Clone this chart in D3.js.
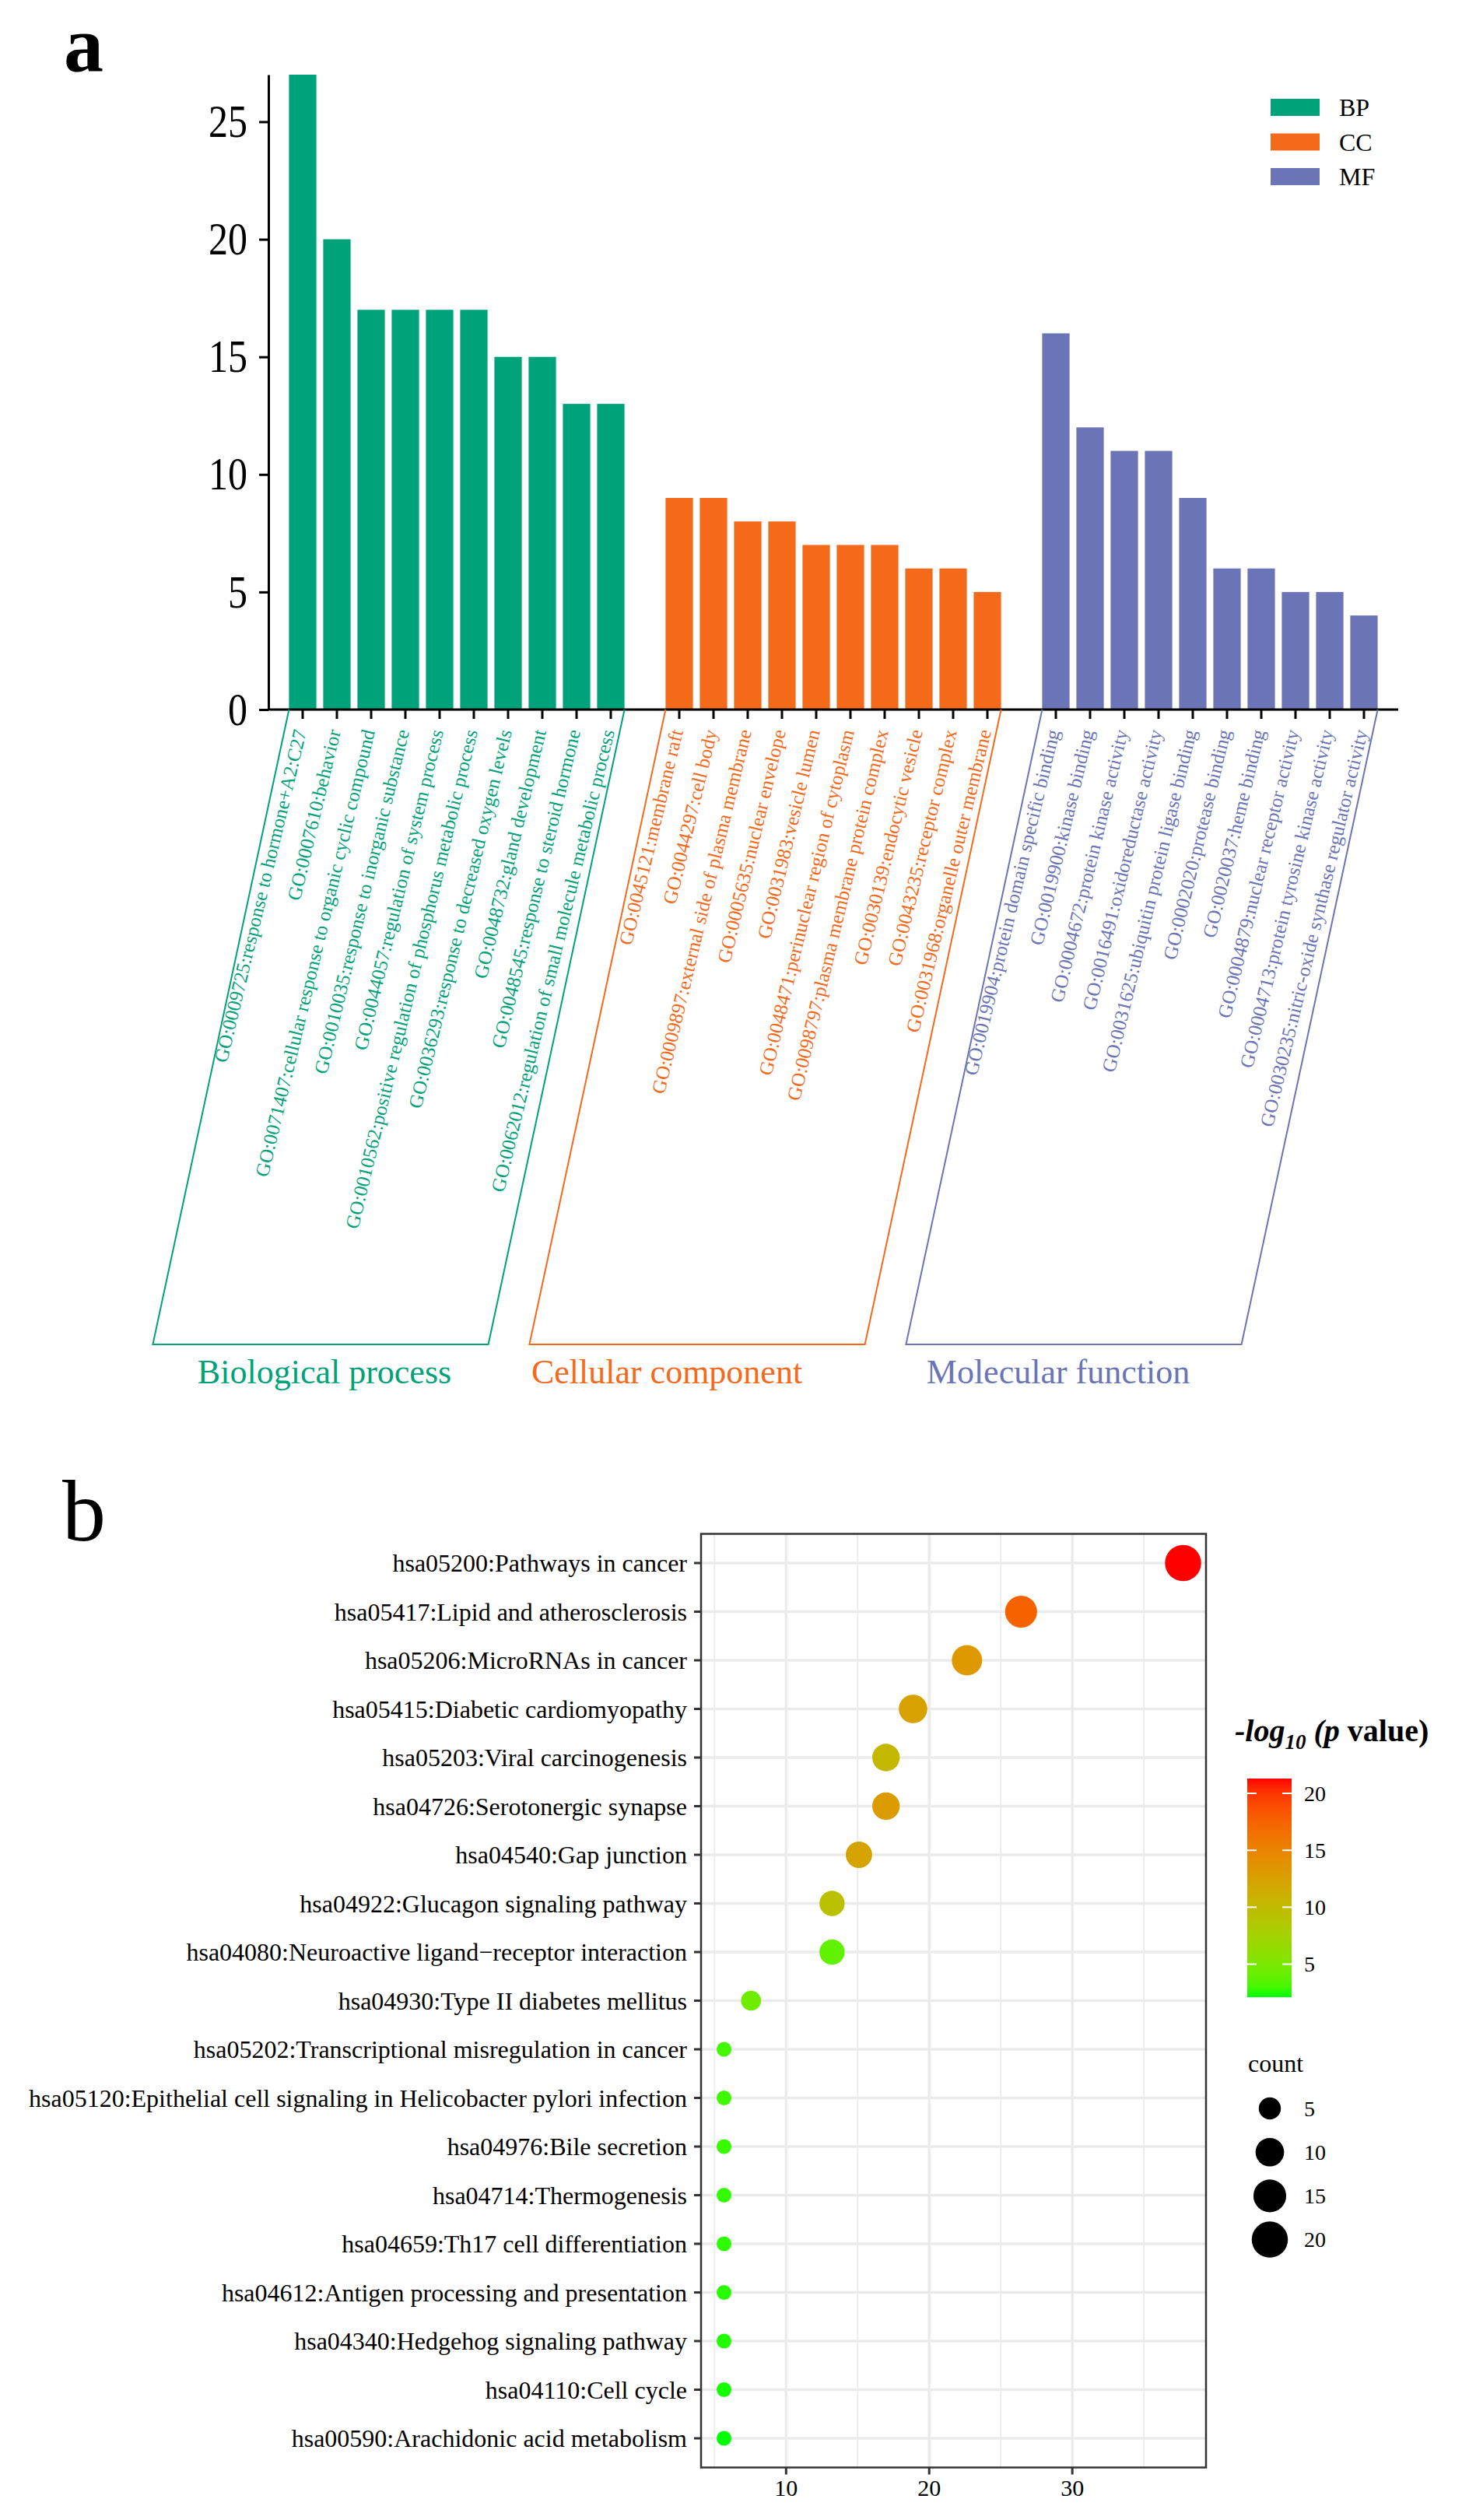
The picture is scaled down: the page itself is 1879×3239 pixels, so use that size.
<!DOCTYPE html>
<html>
<head>
<meta charset="utf-8">
<script src="https://cdn.jsdelivr.net/npm/d3@7"></script>
<style>
  body { margin: 0; background: #fff; }
  text { font-family: "Liberation Serif", "Times New Roman", serif; }
</style>
</head>
<body>
<div id="chart"></div>
<script>
///////////////////////////////////////////////////////////////////
// Data: panel a (GO terms) and panel b (KEGG pathways)
///////////////////////////////////////////////////////////////////

const bpTerms = [
  "GO:0009725:response to hormone+A2:C27",
  "GO:0007610:behavior",
  "GO:0071407:cellular response to organic cyclic compound",
  "GO:0010035:response to inorganic substance",
  "GO:0044057:regulation of system process",
  "GO:0010562:positive regulation of phosphorus metabolic process",
  "GO:0036293:response to decreased oxygen levels",
  "GO:0048732:gland development",
  "GO:0048545:response to steroid hormone",
  "GO:0062012:regulation of small molecule metabolic process"
];
const bpCounts = [27, 20, 17, 17, 17, 17, 15, 15, 13, 13];

const ccTerms = [
  "GO:0045121:membrane raft",
  "GO:0044297:cell body",
  "GO:0009897:external side of plasma membrane",
  "GO:0005635:nuclear envelope",
  "GO:0031983:vesicle lumen",
  "GO:0048471:perinuclear region of cytoplasm",
  "GO:0098797:plasma membrane protein complex",
  "GO:0030139:endocytic vesicle",
  "GO:0043235:receptor complex",
  "GO:0031968:organelle outer membrane"
];
const ccCounts = [9, 9, 8, 8, 7, 7, 7, 6, 6, 5];

const mfTerms = [
  "GO:0019904:protein domain specific binding",
  "GO:0019900:kinase binding",
  "GO:0004672:protein kinase activity",
  "GO:0016491:oxidoreductase activity",
  "GO:0031625:ubiquitin protein ligase binding",
  "GO:0002020:protease binding",
  "GO:0020037:heme binding",
  "GO:0004879:nuclear receptor activity",
  "GO:0004713:protein tyrosine kinase activity",
  "GO:0030235:nitric-oxide synthase regulator activity"
];
const mfCounts = [16, 12, 11, 11, 9, 6, 6, 5, 5, 4];

const groupKeys = ["BP", "CC", "MF"];
const groupTitles = ["Biological process", "Cellular component", "Molecular function"];
const yTicksA = [0, 5, 10, 15, 20, 25];

const keggTerms = [
  "hsa05200:Pathways in cancer",
  "hsa05417:Lipid and atherosclerosis",
  "hsa05206:MicroRNAs in cancer",
  "hsa05415:Diabetic cardiomyopathy",
  "hsa05203:Viral carcinogenesis",
  "hsa04726:Serotonergic synapse",
  "hsa04540:Gap junction",
  "hsa04922:Glucagon signaling pathway",
  "hsa04080:Neuroactive ligand\u2212receptor interaction",
  "hsa04930:Type II diabetes mellitus",
  "hsa05202:Transcriptional misregulation in cancer",
  "hsa05120:Epithelial cell signaling in Helicobacter pylori infection",
  "hsa04976:Bile secretion",
  "hsa04714:Thermogenesis",
  "hsa04659:Th17 cell differentiation",
  "hsa04612:Antigen processing and presentation",
  "hsa04340:Hedgehog signaling pathway",
  "hsa04110:Cell cycle",
  "hsa00590:Arachidonic acid metabolism"
];
const keggPercent = [37.74, 26.42, 22.64, 18.87, 16.98, 16.98, 15.09, 13.21, 13.21, 7.55,
                     5.66, 5.66, 5.66, 5.66, 5.66, 5.66, 5.66, 5.66, 5.66];
const keggCount = [20, 14, 12, 10, 9, 9, 8, 7, 7, 4, 3, 3, 3, 3, 3, 3, 3, 3, 3];
const keggLogP = [21.3, 17.5, 13.3, 12.4, 10.3, 13.0, 12.2, 9.3, 3.8, 4.4,
                  2.9, 2.8, 2.7, 2.6, 2.5, 2.4, 2.3, 2.2, 2.1];

const xTicksB = [10, 20, 30];
const colorTicks = [5, 10, 15, 20];
const sizeTicks = [5, 10, 15, 20];

///////////////////////////////////////////////////////////////////
// Canvas
///////////////////////////////////////////////////////////////////
const width = 1879, height = 3239;
const serif = "'Liberation Serif','Times New Roman',serif";
const svg = d3.select("#chart")
    .append("svg")
    .attr("width", width)
    .attr("height", height)
    .style("font-family", serif);

svg.append("rect").attr("width", width).attr("height", height).attr("fill", "#fff");

///////////////////////////////////////////////////////////////////
// Panel a: GO bar chart
///////////////////////////////////////////////////////////////////
const groupColors = ["#00A27A", "#F5691B", "#6A74B6"];

const groups = groupKeys.map((k, i) => ({
    key: k,
    title: groupTitles[i],
    color: groupColors[i],
    terms: [bpTerms, ccTerms, mfTerms][i],
    counts: [bpCounts, ccCounts, mfCounts][i]
}));

// slot list with an empty slot between groups
const slots = [];
groups.forEach((g, gi) => {
    if (gi > 0) slots.push("__gap" + gi);
    g.terms.forEach(t => slots.push(t));
});

const bars = groups.flatMap(g => g.terms.map((t, i) => ({ term: t, value: g.counts[i], group: g })));

const xA = d3.scaleBand()
    .domain(slots)
    .range([367, 1775])
    .paddingInner(0.2)
    .paddingOuter(0.1);

const yA = d3.scaleLinear()
    .domain([0, d3.max(bars, d => d.value)])
    .range([912, 96]);

const panelA = svg.append("g");

panelA.append("text")
    .attr("x", 82).attr("y", 91)
    .style("font-size", "102px")
    .style("font-weight", "bold")
    .text("a");

// bars
panelA.selectAll("rect.bar")
    .data(bars)
    .enter().append("rect")
    .attr("class", "bar")
    .attr("x", d => xA(d.term))
    .attr("y", d => yA(d.value))
    .attr("width", xA.bandwidth())
    .attr("height", d => yA(0) - yA(d.value))
    .attr("fill", d => d.group.color);

// y axis
const yAxisA = panelA.append("g")
    .attr("transform", "translate(345,0)")
    .call(d3.axisLeft(yA).tickValues(yTicksA).tickSize(12).tickSizeOuter(0).tickPadding(15));
yAxisA.attr("font-family", serif);
yAxisA.select(".domain").attr("stroke", "#000").attr("stroke-width", 3);
yAxisA.selectAll(".tick line").attr("stroke", "#000").attr("stroke-width", 3);
yAxisA.selectAll(".tick text")
    .attr("fill", "#000")
    .style("font-size", "50px")
    .style("font-family", serif)
    .attr("transform", "scale(1,1.2)");

// x axis line + ticks
panelA.append("line")
    .attr("x1", 345).attr("x2", 1797)
    .attr("y1", yA(0)).attr("y2", yA(0))
    .attr("stroke", "#000").attr("stroke-width", 3);

panelA.selectAll("line.xtick")
    .data(bars)
    .enter().append("line")
    .attr("class", "xtick")
    .attr("x1", d => xA(d.term) + xA.bandwidth() / 2)
    .attr("x2", d => xA(d.term) + xA.bandwidth() / 2)
    .attr("y1", yA(0)).attr("y2", yA(0) + 12)
    .attr("stroke", "#000").attr("stroke-width", 3);

// rotated term labels
panelA.selectAll("text.term")
    .data(bars)
    .enter().append("text")
    .attr("class", "term")
    .attr("transform", d => `translate(${xA(d.term) + xA.bandwidth() / 2 + 5}, 940) rotate(-76.5)`)
    .attr("text-anchor", "end")
    .style("font-size", "25px")
    .attr("fill", d => d.group.color)
    .text(d => d.term);

// brackets below labels
const bracketBottom = 1728, bracketShift = 175;
const titleCenters = [417, 857, 1360];
groups.forEach((g, gi) => {
    const xL = xA(g.terms[0]);
    const xR = xA(g.terms[g.terms.length - 1]) + xA.bandwidth();
    panelA.append("path")
        .attr("d", `M${xL},${yA(0)} L${xL - bracketShift},${bracketBottom} L${xR - bracketShift},${bracketBottom} L${xR},${yA(0)}`)
        .attr("fill", "none")
        .attr("stroke", g.color)
        .attr("stroke-width", 2);

    panelA.append("text")
        .attr("x", titleCenters[gi])
        .attr("y", 1778)
        .attr("text-anchor", "middle")
        .style("font-size", "44px")
        .attr("fill", g.color)
        .text(g.title);
});

// legend
const legendA = panelA.append("g").attr("transform", "translate(1633, 127)");
groups.forEach((g, i) => {
    const row = legendA.append("g").attr("transform", `translate(0, ${i * 44.5})`);
    row.append("rect").attr("width", 63).attr("height", 22).attr("fill", g.color);
    row.append("text")
        .attr("x", 88).attr("y", 22)
        .style("font-size", "32px")
        .text(g.key);
});

///////////////////////////////////////////////////////////////////
// Panel b: KEGG bubble chart
///////////////////////////////////////////////////////////////////
const kegg = keggTerms.map((t, i) => ({
    term: t, pct: keggPercent[i], count: keggCount[i], logp: keggLogP[i]
}));

const panelB = svg.append("g");
const box = { left: 901, right: 1550, top: 1971.5, bottom: 3171.5 };

panelB.append("text")
    .attr("x", 80).attr("y", 1980)
    .style("font-size", "112px")
    .text("b");

const pctExt = d3.extent(keggPercent);
const pad = (pctExt[1] - pctExt[0]) * 0.05;
const xB = d3.scaleLinear()
    .domain([pctExt[0] - pad, pctExt[1] + pad])
    .range([box.left, box.right]);

const yB = d3.scalePoint()
    .domain(keggTerms)
    .range([2009, 3134]);

const color = d3.scaleLinear()
    .domain(d3.extent(keggLogP))
    .range(["#00FF00", "#FF0000"])
    .interpolate(d3.interpolateHcl);

const sizeT = d3.scaleLinear().domain(d3.extent(keggCount)).range([0, 1]);
const radius = d3.scaleLinear().domain([0, 1]).range([9.5, 23.25]);
const r = c => radius(Math.sqrt(sizeT(c)));

// grid
const minorTicks = [5, 15, 25, 35];
panelB.selectAll("line.minor")
    .data(minorTicks)
    .enter().append("line")
    .attr("x1", d => xB(d)).attr("x2", d => xB(d))
    .attr("y1", box.top).attr("y2", box.bottom)
    .attr("stroke", "#EBEBEB").attr("stroke-width", 1.8);

panelB.selectAll("line.major")
    .data(xTicksB)
    .enter().append("line")
    .attr("x1", d => xB(d)).attr("x2", d => xB(d))
    .attr("y1", box.top).attr("y2", box.bottom)
    .attr("stroke", "#EBEBEB").attr("stroke-width", 3.5);

panelB.selectAll("line.row")
    .data(keggTerms)
    .enter().append("line")
    .attr("x1", box.left).attr("x2", box.right)
    .attr("y1", d => yB(d)).attr("y2", d => yB(d))
    .attr("stroke", "#EBEBEB").attr("stroke-width", 3.5);

// points
panelB.selectAll("circle.pt")
    .data(kegg)
    .enter().append("circle")
    .attr("cx", d => xB(d.pct))
    .attr("cy", d => yB(d.term))
    .attr("r", d => r(d.count))
    .attr("fill", d => color(d.logp));

// border
panelB.append("rect")
    .attr("x", box.left).attr("y", box.top)
    .attr("width", box.right - box.left).attr("height", box.bottom - box.top)
    .attr("fill", "none").attr("stroke", "#333").attr("stroke-width", 2.5);

// y axis ticks + labels
panelB.selectAll("line.ytick")
    .data(keggTerms)
    .enter().append("line")
    .attr("x1", box.left - 9).attr("x2", box.left)
    .attr("y1", d => yB(d)).attr("y2", d => yB(d))
    .attr("stroke", "#333").attr("stroke-width", 3);

panelB.selectAll("text.ylab")
    .data(keggTerms)
    .enter().append("text")
    .attr("x", 883)
    .attr("y", d => yB(d))
    .attr("dy", "0.35em")
    .attr("text-anchor", "end")
    .style("font-size", "32px")
    .text(d => d);

// x axis ticks + labels
panelB.selectAll("line.xtickb")
    .data(xTicksB)
    .enter().append("line")
    .attr("x1", d => xB(d)).attr("x2", d => xB(d))
    .attr("y1", box.bottom).attr("y2", box.bottom + 9)
    .attr("stroke", "#333").attr("stroke-width", 3);

panelB.selectAll("text.xlab")
    .data(xTicksB)
    .enter().append("text")
    .attr("x", d => xB(d))
    .attr("y", 3208)
    .attr("text-anchor", "middle")
    .style("font-size", "30px")
    .text(d => d);

// colour legend
const title = panelB.append("text")
    .attr("x", 1587).attr("y", 2238)
    .style("font-size", "40px")
    .style("font-weight", "bold");
title.append("tspan").style("font-style", "italic").text("-log");
title.append("tspan").style("font-style", "italic").style("font-size", "27px").attr("dy", 10).text("10");
title.append("tspan").style("font-style", "italic").attr("dy", -10).text(" (p");
title.append("tspan").text(" value)");

const cbTop = 2286, cbBottom = 2567, cbLeft = 1603, cbW = 57;
const cbY = d3.scaleLinear().domain(color.domain()).range([cbBottom, cbTop]);

const grad = svg.append("defs").append("linearGradient")
    .attr("id", "cbgrad")
    .attr("x1", "0").attr("y1", "1").attr("x2", "0").attr("y2", "0");
d3.range(0, 1.0001, 0.05).forEach(t => {
    grad.append("stop")
        .attr("offset", t)
        .attr("stop-color", color(color.domain()[0] + t * (color.domain()[1] - color.domain()[0])));
});

panelB.append("rect")
    .attr("x", cbLeft).attr("y", cbTop)
    .attr("width", cbW).attr("height", cbBottom - cbTop)
    .attr("fill", "url(#cbgrad)");

colorTicks.forEach(v => {
    [[cbLeft, cbLeft + 12], [cbLeft + cbW - 12, cbLeft + cbW]].forEach(([a, b]) => {
        panelB.append("line")
            .attr("x1", a).attr("x2", b)
            .attr("y1", cbY(v)).attr("y2", cbY(v))
            .attr("stroke", "#fff").attr("stroke-width", 2);
    });
    panelB.append("text")
        .attr("x", 1676).attr("y", cbY(v))
        .attr("dy", "0.35em")
        .style("font-size", "28px")
        .text(v);
});

// size legend
panelB.append("text")
    .attr("x", 1604).attr("y", 2663)
    .style("font-size", "32px")
    .text("count");

sizeTicks.forEach((c, i) => {
    const cy = 2710 + i * 56.2;
    panelB.append("circle")
        .attr("cx", 1632).attr("cy", cy)
        .attr("r", r(c))
        .attr("fill", "#000");
    panelB.append("text")
        .attr("x", 1676).attr("y", cy)
        .attr("dy", "0.35em")
        .style("font-size", "28px")
        .text(c);
});
</script>
</body>
</html>
